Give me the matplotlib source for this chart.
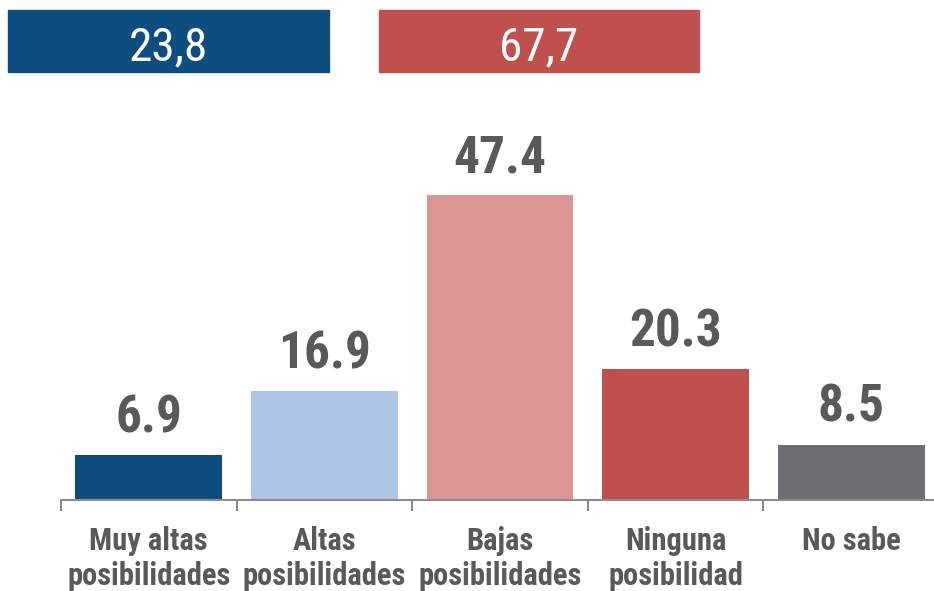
import matplotlib
matplotlib.use('Agg')
import matplotlib.pyplot as plt
from matplotlib import font_manager as fm
from matplotlib.patches import Rectangle

# ---------------------------------------------------------------------------
# Data
# ---------------------------------------------------------------------------
categories = ['Muy altas\nposibilidades', 'Altas\nposibilidades',
              'Bajas\nposibilidades', 'Ninguna\nposibilidad', 'No sabe']
values     = [6.9, 16.9, 47.4, 20.3, 8.5]
bar_colors = ['#0E4C7E', '#ADC6E7', '#DB9594', '#C0504D', '#6D6E71']

summary_labels = ['23,8', '67,7']
summary_colors = ['#0E4D80', '#C0504D']


# ---------------------------------------------------------------------------
# Font: look for a narrow sans, else plain Liberation Sans at smaller sizes
# ---------------------------------------------------------------------------
def pick_font():
    fonts = fm.fontManager.ttflist
    names = {f.name for f in fonts}
    for cand in ['Liberation Sans Narrow', 'Arial Narrow', 'Roboto Condensed',
                 'Open Sans Condensed', 'Noto Sans Condensed',
                 'DejaVu Sans Condensed']:
        if cand in names:
            return cand, 'normal', True
    for f in fonts:
        if f.stretch in ('condensed', 'semi-condensed') and f.weight in (700, 'bold'):
            return f.name, f.stretch, True
    return 'Liberation Sans', 'normal', False


FAMILY, STRETCH, NARROW = pick_font()
plt.rcParams['font.family'] = [FAMILY, 'DejaVu Sans']
plt.rcParams['font.stretch'] = STRETCH

VAL_SIZE = 37 if NARROW else 33
LAB_SIZE = 22 if NARROW else 19
BOX_SIZE = 34 if NARROW else 29

TEXT_GREY = '#595959'

W, H = 934, 591
fig = plt.figure(figsize=(W / 100, H / 100), dpi=100)

# axes: baseline at y=499.5 px, category slots 175.6 px wide from x=61
ax = fig.add_axes([61 / W, (H - 499.5) / H, 878 / W, 353 / H])
x = range(len(values))
ax.bar(x, values, width=0.837, color=bar_colors)
ax.set_xlim(-0.5, len(values) - 0.5)
ax.set_ylim(0, 353 / 6.424)

for xi, v in zip(x, values):
    ax.annotate(f'{v:.1f}', xy=(xi, v), xytext=(0, 16.5),
                textcoords='offset points', ha='center', va='baseline',
                fontsize=VAL_SIZE, fontweight='bold', color=TEXT_GREY)

for side in ['top', 'right', 'left']:
    ax.spines[side].set_visible(False)
ax.spines['bottom'].set_color('#8C8C8C')
ax.spines['bottom'].set_linewidth(1.5)
ax.set_yticks([])
ax.set_xticks([i - 0.5 for i in range(len(values))])
ax.set_xticklabels([])
ax.tick_params(axis='x', length=8, width=1.5, color='#8C8C8C')
for xi, lab in zip(x, categories):
    ax.text(xi, -27 / 353, lab, transform=ax.get_xaxis_transform(),
            ha='center', va='top', fontsize=LAB_SIZE, fontweight='bold',
            color=TEXT_GREY, linespacing=1.2)

# summary boxes above the chart
boxes = [(8, 321), (379, 320)]
for (bx, bw), lab, col in zip(boxes, summary_labels, summary_colors):
    fig.patches.append(Rectangle((bx / W, (H - 72) / H), bw / W, 62 / H,
                                 transform=fig.transFigure, color=col))
    fig.text((bx + bw / 2) / W, (H - 60) / H, lab, ha='center',
             va='baseline', fontsize=BOX_SIZE, color='white')

fig.savefig('out.png', dpi=100)
